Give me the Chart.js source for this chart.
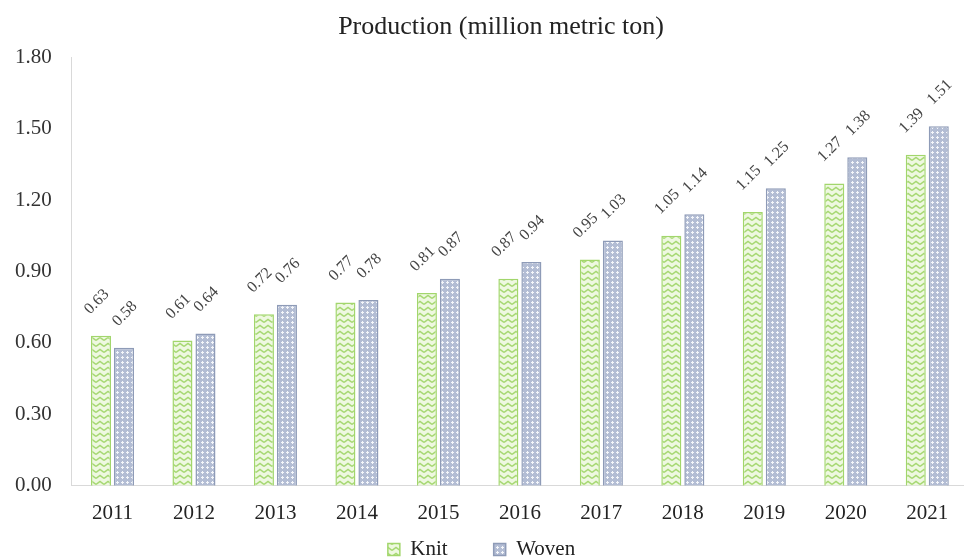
<!DOCTYPE html>
<html>
<head>
<meta charset="utf-8">
<script src="https://cdn.jsdelivr.net/npm/chart.js@4.4.1/dist/chart.umd.min.js"></script>
<style>
  html, body { margin: 0; padding: 0; background: #fff; overflow: hidden; }
  #wrap { width: 972px; height: 560px; }
</style>
</head>
<body>
<div id="wrap"><canvas id="prodChart"></canvas></div>
<script>
// Dati
const years = ['2011', '2012', '2013', '2014', '2015', '2016', '2017', '2018', '2019', '2020', '2021'];
const knitValues = [0.63, 0.61, 0.72, 0.77, 0.81, 0.87, 0.95, 1.05, 1.15, 1.27, 1.39];
const wovenValues = [0.58, 0.64, 0.76, 0.78, 0.87, 0.94, 1.03, 1.14, 1.25, 1.38, 1.51];
const yTicks = [0, 0.3, 0.6, 0.9, 1.2, 1.5, 1.8];

const serif = "'Liberation Serif', 'DejaVu Serif', serif";

// Motivo a zig-zag verde per "Knit"
const makeKnitPattern = () => {
    const c = document.createElement('canvas');
    c.width = 8; c.height = 6;
    const g = c.getContext('2d');
    g.fillStyle = '#eef8e0';
    g.fillRect(0, 0, 8, 6);
    g.strokeStyle = '#a6d872';
    g.lineWidth = 1.5;
    g.beginPath();
    g.moveTo(0, 4.5); g.lineTo(4, 1.5); g.lineTo(8, 4.5);
    g.stroke();
    return g.createPattern(c, 'repeat');
};

// Motivo a rete grigio-blu per "Woven"
const makeWovenPattern = () => {
    const c = document.createElement('canvas');
    c.width = 5; c.height = 5;
    const g = c.getContext('2d');
    g.fillStyle = '#b3bdd4';
    g.fillRect(0, 0, 5, 5);
    g.fillStyle = '#f4f6fa';
    g.fillRect(2, 1, 1, 3);
    g.fillRect(1, 2, 3, 1);
    return g.createPattern(c, 'repeat');
};

// Etichette ruotate sopra le barre (spostamento orizzontale diverso per serie)
const labelShiftX = [-14, -9];
const rotatedLabels = {
    id: 'rotatedLabels',
    afterDatasetsDraw(chart) {
        const ctx = chart.ctx;
        ctx.save();
        ctx.font = '16px ' + serif;
        ctx.fillStyle = '#444';
        ctx.textAlign = 'left';
        ctx.textBaseline = 'middle';
        chart.data.datasets.forEach((ds, i) => {
            chart.getDatasetMeta(i).data.forEach((bar, j) => {
                ctx.save();
                ctx.translate(bar.x + labelShiftX[i], bar.y - 24);
                ctx.rotate(-45 * Math.PI / 180);
                ctx.fillText(ds.data[j].toFixed(2), 0, 0);
                ctx.restore();
            });
        });
        ctx.restore();
    }
};

new Chart(document.getElementById('prodChart'), {
    type: 'bar',
    data: {
        labels: years,
        datasets: [
            {
                label: 'Knit',
                data: knitValues,
                backgroundColor: makeKnitPattern(),
                borderColor: '#a2d66c',
                borderWidth: 1.5
            },
            {
                label: 'Woven',
                data: wovenValues,
                backgroundColor: makeWovenPattern(),
                borderColor: '#8e9bb7',
                borderWidth: 1.5
            }
        ]
    },
    options: {
        responsive: true,
        maintainAspectRatio: false,
        animation: false,
        datasets: { bar: { categoryPercentage: 0.565, barPercentage: 0.87 } },
        layout: { padding: { top: 0, left: -5, right: 4, bottom: -10 } },
        plugins: {
            title: {
                display: true,
                // spazi iniziali per spostare il titolo un po' a destra, come nell'originale
                text: '\u2003\u2002Production (million metric ton)',
                color: '#222',
                font: { family: serif, size: 26, weight: 'normal' },
                padding: { top: 12, bottom: 14 }
            },
            legend: {
                position: 'bottom',
                labels: {
                    color: '#222',
                    font: { family: serif, size: 21 },
                    boxWidth: 12,
                    boxHeight: 12,
                    padding: 4,
                    generateLabels: chart => {
                        const items = Chart.defaults.plugins.legend.labels.generateLabels(chart);
                        // spazio extra dopo la prima voce
                        items[0].text = items[0].text + '\u2003\u2003';
                        return items;
                    }
                }
            },
            tooltip: { enabled: false }
        },
        scales: {
            x: {
                grid: { display: false, drawTicks: false },
                border: { color: '#d9d9d9' },
                ticks: { color: '#222', font: { family: serif, size: 21 }, padding: 15 },
                afterFit: axis => { axis.height -= 6; }
            },
            y: {
                min: 0,
                max: 1.8,
                afterBuildTicks: axis => { axis.ticks = yTicks.map(v => ({ value: v })); },
                grid: { display: false, drawTicks: false },
                border: { color: '#d9d9d9' },
                ticks: {
                    color: '#333',
                    font: { family: serif, size: 21 },
                    padding: 20,
                    callback: v => v.toFixed(2)
                }
            }
        }
    },
    plugins: [rotatedLabels]
});
</script>
</body>
</html>
